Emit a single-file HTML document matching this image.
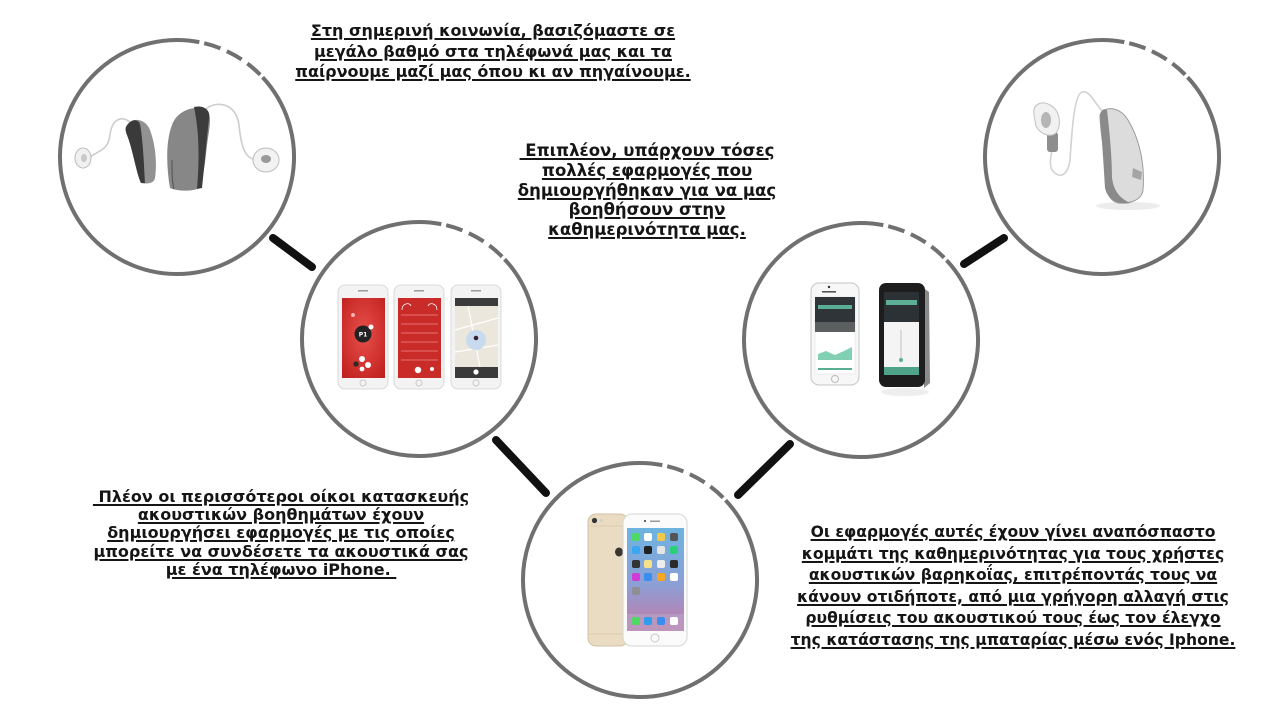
<!DOCTYPE html>
<html><head><meta charset="utf-8">
<style>
html,body{margin:0;padding:0;background:#fff;}
body{width:1280px;height:719px;position:relative;overflow:hidden;}
svg{position:absolute;left:0;top:0;}
.t{position:absolute;font-family:"DejaVu Sans","Liberation Sans",sans-serif;font-weight:bold;font-size:16px;color:#151515;text-align:center;white-space:pre;text-decoration:underline;text-decoration-thickness:1.5px;text-underline-offset:2px;}
</style></head><body>
<svg width="1280" height="719" viewBox="0 0 1280 719" xmlns="http://www.w3.org/2000/svg">
<defs>
<linearGradient id="ios" x1="0" y1="0" x2="0" y2="1"><stop offset="0" stop-color="#6db4e0"/><stop offset="0.55" stop-color="#8c9fd6"/><stop offset="1" stop-color="#c77aa6"/></linearGradient>
<radialGradient id="red1" cx="0.5" cy="0.45" r="0.7"><stop offset="0" stop-color="#e8504a"/><stop offset="1" stop-color="#c0201f"/></radialGradient>
</defs>
<g fill="none" stroke="#707070" stroke-width="4">
<path d="M262.57,77.21 A117,117 0 1 1 199.33,42.15"/>
<path d="M199.33,42.15 A117,117 0 0 1 262.57,77.21" stroke-dasharray="17 7" stroke-dashoffset="19"/>
<path d="M504.57,259.21 A117,117 0 1 1 441.33,224.15"/>
<path d="M441.33,224.15 A117,117 0 0 1 504.57,259.21" stroke-dasharray="17 7" stroke-dashoffset="19"/>
<path d="M1187.57,77.21 A117,117 0 1 1 1124.33,42.15"/>
<path d="M1124.33,42.15 A117,117 0 0 1 1187.57,77.21" stroke-dasharray="17 7" stroke-dashoffset="19"/>
<path d="M946.57,260.21 A117,117 0 1 1 883.33,225.15"/>
<path d="M883.33,225.15 A117,117 0 0 1 946.57,260.21" stroke-dasharray="17 7" stroke-dashoffset="19"/>
<path d="M725.57,500.21 A117,117 0 1 1 662.33,465.15"/>
<path d="M662.33,465.15 A117,117 0 0 1 725.57,500.21" stroke-dasharray="17 7" stroke-dashoffset="19"/>
</g>
<g stroke="#111" stroke-width="8" stroke-linecap="round">
<line x1="273" y1="238" x2="312" y2="267"/>
<line x1="496" y1="440" x2="546" y2="493"/>
<line x1="738" y1="495" x2="790" y2="444"/>
<line x1="964" y1="264" x2="1004" y2="238"/>
</g>

<g>
<path d="M90,157 C100,150 108,150 110,135 C112,118 122,116 130,122" fill="none" stroke="#cdcdcd" stroke-width="1.6"/>
<path d="M205,110 C215,100 236,102 239,125 C241,145 244,158 256,160" fill="none" stroke="#cdcdcd" stroke-width="1.6"/>
<ellipse cx="83" cy="158" rx="8" ry="10" fill="#f0f0f0" stroke="#bdbdbd"/>
<ellipse cx="84" cy="158" rx="3" ry="4" fill="#c8c8c8"/>
<ellipse cx="266" cy="160" rx="13" ry="12" fill="#f2f2f2" stroke="#bdbdbd"/>
<ellipse cx="266" cy="159" rx="5" ry="4" fill="#9a9a9a"/>
<path d="M128,124 C133,117 146,119 150,130 C156,146 157,165 155,178 C154,184 146,184 141,183 C136,172 133,150 127,135 C125,130 125,127 128,124 Z" fill="#929292"/>
<path d="M128,124 C132,119 138,119 140,124 C143,140 144,165 145,183 L141,183 C136,172 133,150 127,135 C125,130 125,127 128,124 Z" fill="#3a3a3a"/>
<path d="M172,125 C178,108 200,104 208,112 C212,118 209,130 207,145 C205,165 203,180 199,188 C193,192 176,191 170,188 C166,165 166,140 172,125 Z" fill="#878787"/>
<path d="M194,107 C204,105 211,110 209,119 C207,135 205,160 202,188 L197,189 C199,165 200,135 194,107 Z" fill="#3c3c3c"/>
<path d="M172,160 C172,172 172,182 174,189" stroke="#5a5a5a" stroke-width="1.2" fill="none"/>
</g>

<g>
<ellipse cx="1128" cy="206" rx="32" ry="4" fill="#ececec"/>
<path d="M1103,112 C1095,104 1090,90 1082,92 C1074,95 1072,130 1070,160 C1068,175 1060,180 1052,170 C1049,164 1051,155 1052,150" fill="none" stroke="#d2d2d2" stroke-width="1.6"/>
<rect x="1047" y="132" width="11" height="20" rx="3" fill="#8e8e8e"/>
<path d="M1034,115 C1032,104 1042,100 1050,105 C1060,110 1062,125 1056,133 C1050,138 1040,134 1036,126 Z" fill="#f1f1f1" stroke="#c2c2c2"/>
<ellipse cx="1046" cy="120" rx="5" ry="8" fill="#b5b5b5"/>
<path d="M1100,115 C1105,105 1120,107 1128,120 C1140,140 1145,165 1143,190 C1142,200 1130,204 1118,203 C1108,200 1105,190 1105,175 C1106,155 1100,135 1100,115 Z" fill="#dcdcdc" stroke="#9c9c9c" stroke-width="1"/>
<path d="M1100,115 C1101,110 1104,108 1107,110 C1110,135 1112,160 1112,178 C1114,192 1120,198 1130,203 C1120,205 1108,201 1105,188 C1104,170 1102,140 1100,115 Z" fill="#8a8a8a"/>
<path d="M1133,168 L1142,172 L1141,180 L1132,177 Z" fill="#a5a5a5"/>
</g>

<g>
<rect x="338" y="285" width="50" height="104" rx="7" fill="#f3f3f3" stroke="#d2d2d2" stroke-width="0.8"/>
<rect x="342" y="298" width="43" height="80" fill="url(#red1)"/>
<rect x="358" y="290" width="10" height="1.5" fill="#9a9a9a"/>
<circle cx="363" cy="383" r="3" fill="none" stroke="#c8c8c8"/>
<circle cx="363" cy="334" r="8.5" fill="#222"/>
<text x="363" y="336.5" font-family="DejaVu Sans,sans-serif" font-size="6" font-weight="bold" fill="#fff" text-anchor="middle">P1</text>
<circle cx="371" cy="327" r="2.5" fill="#fff"/>
<circle cx="353" cy="315" r="2" fill="#f6b0ad"/>
<circle cx="362" cy="359" r="3" fill="#fff"/>
<circle cx="368" cy="365" r="3" fill="#fff"/>
<circle cx="356" cy="364" r="2.6" fill="#2b2b2b"/>
<circle cx="362" cy="369" r="2.4" fill="#fff"/>

<rect x="394" y="285" width="50" height="104" rx="7" fill="#f3f3f3" stroke="#d2d2d2" stroke-width="0.8"/>
<rect x="398" y="298" width="43" height="80" fill="#c92b29"/>
<rect x="414" y="290" width="10" height="1.5" fill="#9a9a9a"/>
<circle cx="419" cy="383" r="3" fill="none" stroke="#c8c8c8"/>
<g stroke="#f08a86" stroke-width="0.8">
<line x1="401" y1="315" x2="438" y2="315"/><line x1="401" y1="324" x2="438" y2="324"/>
<line x1="401" y1="333" x2="438" y2="333"/><line x1="401" y1="342" x2="438" y2="342"/>
<line x1="401" y1="351" x2="438" y2="351"/><line x1="401" y1="360" x2="438" y2="360"/>
</g>
<path d="M402,310 C402,303 410,302 411,306 M428,306 C429,302 437,303 437,310" stroke="#fff" stroke-width="0.8" fill="none"/>
<circle cx="418" cy="370" r="3.2" fill="#fff"/>
<circle cx="432" cy="369" r="2" fill="#fff"/>

<rect x="451" y="285" width="50" height="104" rx="7" fill="#f3f3f3" stroke="#d2d2d2" stroke-width="0.8"/>
<rect x="455" y="298" width="43" height="80" fill="#ebe7dc"/>
<rect x="455" y="298" width="43" height="8" fill="#3b3b3b"/>
<rect x="455" y="367" width="43" height="11" fill="#3a3a3a"/>
<rect x="471" y="290" width="10" height="1.5" fill="#9a9a9a"/>
<circle cx="476" cy="383" r="3" fill="none" stroke="#c8c8c8"/>
<g stroke="#fff" stroke-width="1.2"><line x1="455" y1="330" x2="498" y2="318"/><line x1="468" y1="306" x2="480" y2="367"/><line x1="455" y1="352" x2="498" y2="345"/></g>
<circle cx="476" cy="340" r="10" fill="#c8dbee"/>
<circle cx="476" cy="338" r="2.3" fill="#3a1f2a"/>
<circle cx="476" cy="372" r="2.6" fill="#fff"/>
</g>

<g>
<rect x="811" y="283" width="48" height="102" rx="8" fill="#f7f7f7" stroke="#c6c6c6" stroke-width="1"/>
<rect x="822" y="291" width="14" height="1.6" fill="#555"/>
<circle cx="829" cy="287" r="1.2" fill="#333"/>
<rect x="815" y="297" width="40" height="77" fill="#fff" stroke="#ddd" stroke-width="0.5"/>
<rect x="815" y="297" width="40" height="35" fill="#2e3437"/>
<rect x="818" y="305" width="34" height="4" fill="#5aae93"/>
<rect x="815" y="322" width="40" height="10" fill="#5b5f60"/>
<path d="M818,360 L818,354 L826,351 L835,355 L844,351 L852,347 L852,360 Z" fill="#82d0b3"/>
<rect x="818" y="368" width="34" height="2" fill="#5aae93"/>
<circle cx="835" cy="379" r="3.5" fill="none" stroke="#bbb"/>

<ellipse cx="905" cy="392" rx="24" ry="4" fill="#eeeeee"/>
<path d="M922,287 L929,292 L930,383 L924,388 Z" fill="#8a8a8a"/>
<rect x="879" y="283" width="46" height="104" rx="7" fill="#1d1d1d"/>
<rect x="884" y="292" width="35" height="83" fill="#f4f4f4"/>
<rect x="884" y="292" width="35" height="30" fill="#2b3134"/>
<rect x="886" y="300" width="31" height="5" fill="#5cae95"/>
<line x1="901" y1="330" x2="901" y2="360" stroke="#c2c2c2" stroke-width="1"/>
<circle cx="901" cy="360" r="2" fill="#5cae95"/>
<rect x="884" y="367" width="35" height="8" fill="#4fa389"/>
</g>

<g>
<rect x="588" y="514" width="40" height="132" rx="8" fill="#eadcc3" stroke="#d2c1a3" stroke-width="1"/>
<line x1="589" y1="526" x2="627" y2="526" stroke="#dccbac" stroke-width="1"/>
<line x1="589" y1="634" x2="627" y2="634" stroke="#dccbac" stroke-width="1"/>
<circle cx="594.5" cy="520.5" r="2.6" fill="#333"/>
<circle cx="601" cy="520.5" r="1.5" fill="#cfcfcf"/>
<ellipse cx="619" cy="552" rx="4" ry="4.5" fill="#3a3530"/>
<rect x="623" y="514" width="64" height="132" rx="9" fill="#fbfbfb" stroke="#d6d6d6" stroke-width="1"/>
<rect x="650" y="520.5" width="10" height="1.5" fill="#9a9a9a"/>
<circle cx="645" cy="521" r="1.1" fill="#555"/>
<rect x="627" y="528" width="57" height="103" fill="url(#ios)"/>
<g>
<rect x="632" y="533" width="8" height="8" rx="2" fill="#4cd964"/><rect x="644" y="533" width="8" height="8" rx="2" fill="#fff"/><rect x="657" y="533" width="8" height="8" rx="2" fill="#f2c84b"/><rect x="670" y="533" width="8" height="8" rx="2" fill="#555"/>
<rect x="632" y="546" width="8" height="8" rx="2" fill="#3aa7f0"/><rect x="644" y="546" width="8" height="8" rx="2" fill="#222"/><rect x="657" y="546" width="8" height="8" rx="2" fill="#e6e6e6"/><rect x="670" y="546" width="8" height="8" rx="2" fill="#2ecf7a"/>
<rect x="632" y="560" width="8" height="8" rx="2" fill="#333"/><rect x="644" y="560" width="8" height="8" rx="2" fill="#f7e08a"/><rect x="657" y="560" width="8" height="8" rx="2" fill="#eeeeee"/><rect x="670" y="560" width="8" height="8" rx="2" fill="#2a2a2a"/>
<rect x="632" y="573" width="8" height="8" rx="2" fill="#d03ad8"/><rect x="644" y="573" width="8" height="8" rx="2" fill="#3a8ef0"/><rect x="657" y="573" width="8" height="8" rx="2" fill="#f5a623"/><rect x="670" y="573" width="8" height="8" rx="2" fill="#fff"/>
<rect x="632" y="587" width="8" height="8" rx="2" fill="#8e8e93"/>
<rect x="627" y="614" width="57" height="17" fill="#b7a7c8" opacity="0.6"/>
<rect x="632" y="617" width="8" height="8" rx="2" fill="#4cd964"/><rect x="644" y="617" width="8" height="8" rx="2" fill="#2f9cf0"/><rect x="657" y="617" width="8" height="8" rx="2" fill="#3a8ef0"/><rect x="670" y="617" width="8" height="8" rx="2" fill="#fff"/>
</g>
<circle cx="655" cy="638" r="4" fill="none" stroke="#c8c8c8" stroke-width="1"/>
</g>
</svg>

<div class="t" style="left:243px;top:21px;width:500px;line-height:20.5px;font-size:16px;">Στη σημερινή κοινωνία, βασιζόμαστε σε
μεγάλο βαθμό στα τηλέφωνά μας και τα
παίρνουμε μαζί μας όπου κι αν πηγαίνουμε.</div>

<div class="t" style="left:477px;top:141px;width:340px;line-height:19.8px;font-size:16.5px;"> Επιπλέον, υπάρχουν τόσες
πολλές εφαρμογές που
δημιουργήθηκαν για να μας
βοηθήσουν στην
καθημερινότητα μας.</div>

<div class="t" style="left:51px;top:488px;width:460px;line-height:18.2px;font-size:16px;"> Πλέον οι περισσότεροι οίκοι κατασκευής
ακουστικών βοηθημάτων έχουν
δημιουργήσει εφαρμογές με τις οποίες
μπορείτε να συνδέσετε τα ακουστικά σας
με ένα τηλέφωνο iPhone. </div>

<div class="t" style="left:753px;top:522px;width:520px;line-height:21.5px;font-size:15.6px;">Οι εφαρμογές αυτές έχουν γίνει αναπόσπαστο
κομμάτι της καθημερινότητας για τους χρήστες
ακουστικών βαρηκοΐας, επιτρέποντάς τους να
κάνουν οτιδήποτε, από μια γρήγορη αλλαγή στις
ρυθμίσεις του ακουστικού τους έως τον έλεγχο
της κατάστασης της μπαταρίας μέσω ενός Iphone.</div>
</body></html>
